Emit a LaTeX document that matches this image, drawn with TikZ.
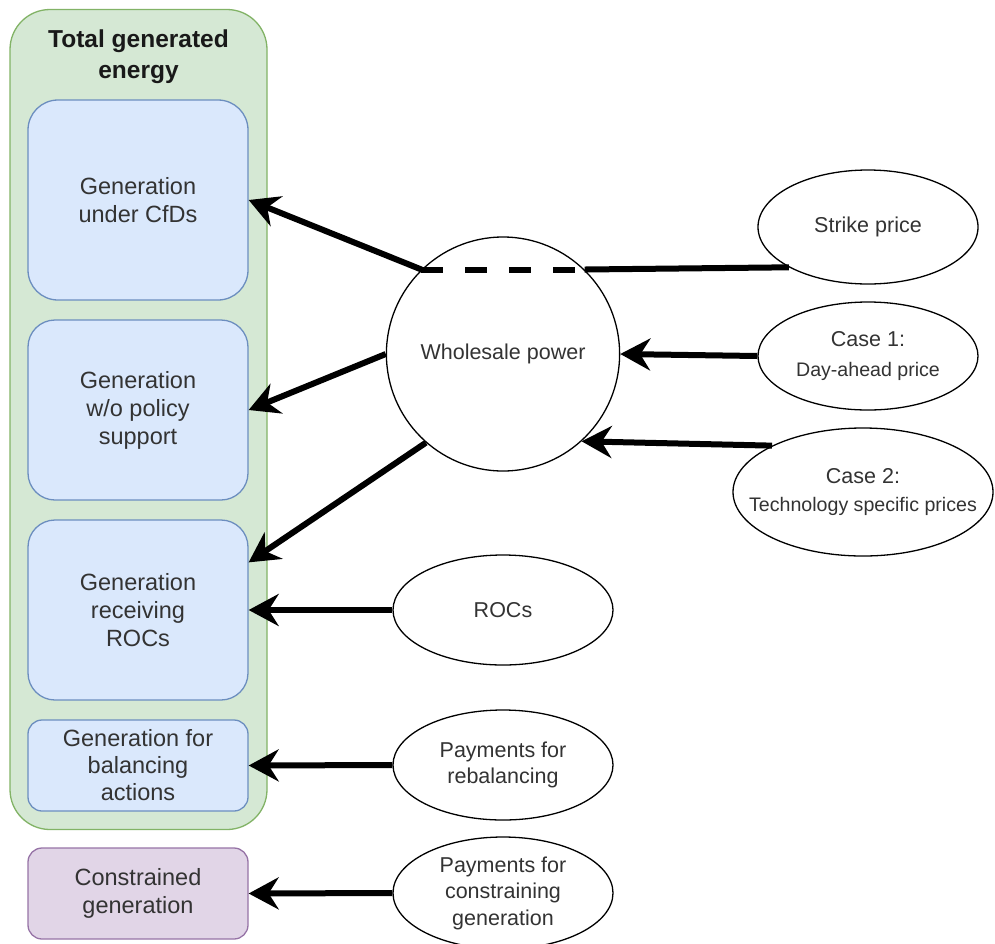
\documentclass[tikz,border=0pt]{standalone}
\usepackage{fontspec}
\setmainfont{Liberation Sans}
\usetikzlibrary{arrows.meta,shapes.geometric}
\definecolor{gfill}{HTML}{D5E8D4}
\definecolor{gstroke}{HTML}{82B366}
\definecolor{bfill}{HTML}{DAE8FC}
\definecolor{bstroke}{HTML}{6C8EBF}
\definecolor{pfill}{HTML}{E1D5E7}
\definecolor{pstroke}{HTML}{9673A6}
\definecolor{txt}{HTML}{333333}
\begin{document}
\begin{tikzpicture}[x=1pt,y=-1pt,
  box/.style={draw=bstroke,fill=bfill,line width=1.3pt,minimum width=220pt,inner sep=0pt,align=center,text=txt,font=\fontsize{23.5}{28}\selectfont},
  pbox/.style={box,draw=pstroke,fill=pfill},
  ell/.style={ellipse,draw=black,line width=1.3pt,fill=white,inner sep=0pt,align=center,text=txt,font=\fontsize{21.5}{26.5}\selectfont},
  conn/.style={line width=6pt},
  arr/.style={conn,-{Stealth[length=30pt,width=32pt,inset=10pt]}},
]
\useasboundingbox (0,0) rectangle (995,943);
% container
\node[draw=gstroke,fill=gfill,rounded corners=40pt,minimum width=257pt,minimum height=820pt,line width=1.3pt,inner sep=0pt] (total) at (138.5,419.5) {};
\node[align=center,text=black!90,font=\fontsize{24.5}{31}\selectfont\bfseries] (title) at (138.5,57) {Total generated\\energy};
% boxes
\node[box,rounded corners=30pt,minimum height=200pt] (gen1) at (138,200) {Generation\\under CfDs};
\node[box,rounded corners=27pt,minimum height=180pt] (gen2) at (138,410) {Generation\\w/o policy\\support};
\node[box,rounded corners=27pt,minimum height=180pt] (gen3) at (138,610) {Generation\\receiving\\ROCs};
\node[box,rounded corners=14pt,minimum height=91pt,font=\fontsize{23.5}{27}\selectfont] (gen4) at (138,765.5) {Generation for\\balancing\\actions};
\node[pbox,rounded corners=14pt,minimum height=91pt] (cons) at (138,893.5) {Constrained\\generation};
% ellipses
\node[ell,minimum width=220pt,minimum height=234pt] (whole) at (503,354) {Wholesale power};
\node[ell,minimum width=220pt,minimum height=114pt] (strike) at (868,227) {Strike price};
\node[ell,minimum width=220pt,minimum height=108pt,font=\fontsize{21.5}{30}\selectfont] (case1) at (868,356) {Case 1:\\{\fontsize{19.6}{30}\selectfont Day-ahead price}};
\node[ell,minimum width=260pt,minimum height=128pt,inner xsep=-40pt,font=\fontsize{21.5}{28}\selectfont] (case2) at (863,492) {Case 2:\\{\fontsize{19.6}{28}\selectfont Technology specific prices}};
\node[ell,minimum width=220pt,minimum height=110pt] (rocs) at (503,610) {ROCs};
\node[ell,minimum width=220pt,minimum height=110pt] (pay1) at (503,765) {Payments for\\rebalancing};
\node[ell,minimum width=220pt,minimum height=112pt] (pay2) at (503,893) {Payments for\\constraining\\generation};
% connectors
\path (whole.134) coordinate (dL);
\path (dL -| whole.46) coordinate (dR);
\draw[conn] (strike.207) -- (dR);
\draw[conn,dash pattern=on 22pt off 22pt] (dL) -- (dR);
\draw[arr] (dL) -- (gen1.east);
\draw[arr] (whole.west) -- (gen2.east);
\draw[arr] (whole.229) -- ([yshift=-43pt]gen3.north east);
\draw[arr] (case1.west) -- (whole.east);
\draw[arr] (case2.153) -- (whole.312.5);
\draw[arr] (rocs.west) -- (gen3.east);
\draw[arr] (pay1.west) -- (gen4.east);
\draw[arr] (pay2.west) -- (cons.east);
\end{tikzpicture}
\end{document}
